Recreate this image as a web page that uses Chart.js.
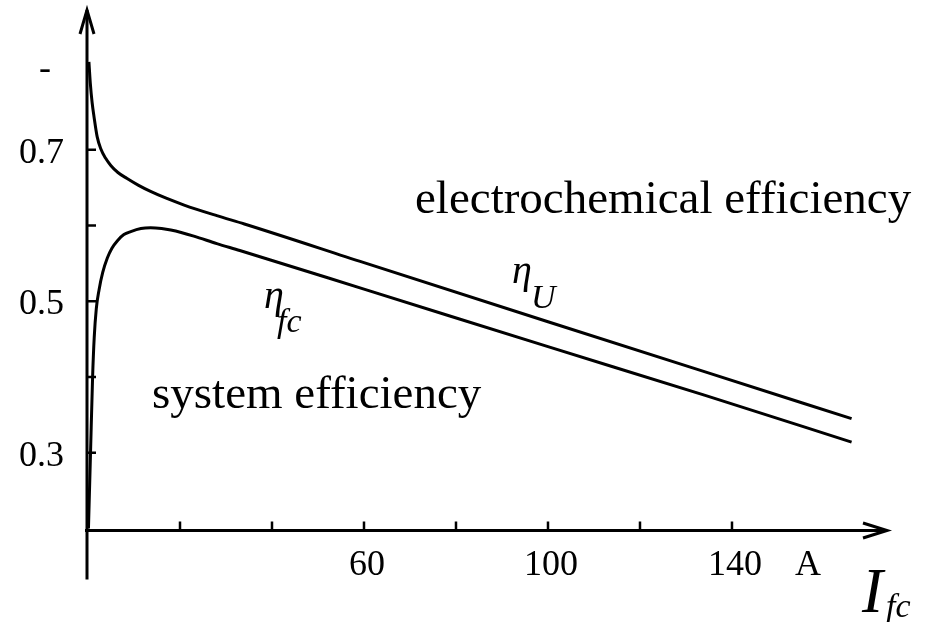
<!DOCTYPE html>
<html>
<head>
<meta charset="utf-8">
<title>Fuel cell efficiency</title>
<script src="https://cdn.jsdelivr.net/npm/chart.js@4/dist/chart.umd.min.js"></script>
<style>
  html, body { margin: 0; padding: 0; background: #fff; }
  #wrap { width: 942px; height: 622px; }
</style>
</head>
<body>
<div id="wrap"><canvas id="effChart" width="942" height="622"></canvas></div>
<script>
// Current I_fc (A) and efficiency values
const uCurrent = [0.2, 0.5, 0.9, 1.3, 2.0, 2.8, 3.8, 5.0, 6.5, 8.5, 11, 13.6, 17, 20.9, 28, 34, 60, 100, 134, 166];
const etaU = [0.816, 0.788, 0.762, 0.744, 0.717, 0.701, 0.689, 0.679, 0.670, 0.662, 0.653, 0.645, 0.636, 0.627, 0.613, 0.602, 0.551, 0.473, 0.407, 0.345];

const fcCurrent = [0.1, 0.55, 1.0, 1.35, 1.8, 2.4, 3.2, 4.2, 5.2, 6.4, 7.8, 9.3, 11.5, 13.6, 16, 18, 23, 28, 33, 60, 100, 134, 166];
const etaFc = [0.2, 0.3, 0.4, 0.452, 0.49, 0.515, 0.538, 0.557, 0.570, 0.580, 0.588, 0.592, 0.596, 0.597, 0.596, 0.594, 0.586, 0.576, 0.567, 0.516, 0.440, 0.376, 0.314];

const xTicks = [20, 40, 60, 80, 100, 120, 140];
const xTickLabels = { 60: "60", 100: "100", 140: "140" };
const yTicks = [0.3, 0.4, 0.5, 0.6, 0.7];
const yTickLabels = { 0.3: "0.3", 0.5: "0.5", 0.7: "0.7" };

const SERIF = "'Liberation Serif', 'Times New Roman', serif";

function toPoints(xs, ys) {
  return xs.map((x, i) => ({ x: x, y: ys[i] }));
}

// Draws arrows, inner tick marks and all the text
const axesPlugin = {
  id: "axesPlugin",
  afterDraw(chart) {
    const ctx = chart.ctx;
    const xs = chart.scales.x;
    const ys = chart.scales.y;
    const x0 = xs.getPixelForValue(0) - 1;
    const yBase = ys.bottom + 0.5;
    const xEnd = xs.right;
    const yTop = ys.top;

    ctx.save();
    ctx.strokeStyle = "#000";
    ctx.fillStyle = "#000";
    ctx.lineWidth = 3;
    ctx.lineCap = "butt";

    // x axis
    ctx.beginPath();
    ctx.moveTo(x0 - 2, yBase);
    ctx.lineTo(xEnd, yBase);
    ctx.stroke();
    ctx.beginPath();
    ctx.moveTo(xEnd - 24, yBase - 7.5);
    ctx.lineTo(xEnd, yBase);
    ctx.lineTo(xEnd - 24, yBase + 7.5);
    ctx.stroke();

    // y axis
    ctx.beginPath();
    ctx.moveTo(x0, yBase + 49);
    ctx.lineTo(x0, yTop);
    ctx.stroke();
    ctx.beginPath();
    ctx.moveTo(x0 - 7, yTop + 24);
    ctx.lineTo(x0, yTop);
    ctx.lineTo(x0 + 7, yTop + 24);
    ctx.stroke();

    // tick marks pointing into the plot
    ctx.lineWidth = 2.5;
    xTicks.forEach((v) => {
      const px = xs.getPixelForValue(v);
      ctx.beginPath();
      ctx.moveTo(px, yBase);
      ctx.lineTo(px, yBase - 9);
      ctx.stroke();
    });
    yTicks.forEach((v) => {
      const py = ys.getPixelForValue(v);
      ctx.beginPath();
      ctx.moveTo(x0, py);
      ctx.lineTo(x0 + 9, py);
      ctx.stroke();
    });

    // tick labels
    ctx.font = "36px " + SERIF;
    ctx.textBaseline = "alphabetic";
    ctx.textAlign = "center";
    Object.keys(xTickLabels).forEach((k) => {
      const px = xs.getPixelForValue(Number(k));
      ctx.fillText(xTickLabels[k], px + 3, 575);
    });
    ctx.textAlign = "left";
    ctx.fillText("A", 795, 575);

    ctx.textAlign = "right";
    Object.keys(yTickLabels).forEach((k) => {
      const py = ys.getPixelForValue(Number(k));
      ctx.fillText(yTickLabels[k], 64, py + 13);
    });
    ctx.textAlign = "left";
    ctx.fillText("-", 39, 79);

    // region captions
    ctx.font = "47px " + SERIF;
    ctx.fillText("electrochemical efficiency", 415, 213);
    ctx.fillText("system efficiency", 152, 408);

    // curve names
    ctx.font = "italic 40px " + SERIF;
    ctx.fillText("\u03B7", 512, 283);
    ctx.fillText("\u03B7", 264, 308);
    ctx.font = "italic 34px " + SERIF;
    ctx.fillText("U", 531, 308);
    ctx.fillText("fc", 277, 332);

    // axis title
    ctx.font = "italic 63px " + SERIF;
    ctx.fillText("I", 862, 612);
    ctx.font = "italic 34px " + SERIF;
    ctx.fillText("fc", 886, 617);

    ctx.restore();
  },
};

const chart = new Chart(document.getElementById("effChart").getContext("2d"), {
  type: "scatter",
  data: {
    datasets: [
      {
        label: "eta_U",
        data: toPoints(uCurrent, etaU),
        showLine: true,
        borderColor: "#000",
        borderWidth: 3,
        pointRadius: 0,
        cubicInterpolationMode: "monotone",
        fill: false,
      },
      {
        label: "eta_fc",
        data: toPoints(fcCurrent, etaFc),
        showLine: true,
        borderColor: "#000",
        borderWidth: 3,
        pointRadius: 0,
        cubicInterpolationMode: "monotone",
        fill: false,
      },
    ],
  },
  options: {
    responsive: false,
    animation: false,
    layout: {
      padding: { left: 88, right: 55, top: 10, bottom: 92 },
    },
    plugins: {
      legend: { display: false },
      tooltip: { enabled: false },
    },
    scales: {
      x: { type: "linear", display: false, min: 0, max: 173.7 },
      y: { type: "linear", display: false, min: 0.198, max: 0.8845 },
    },
  },
  plugins: [axesPlugin],
});
</script>
</body>
</html>
